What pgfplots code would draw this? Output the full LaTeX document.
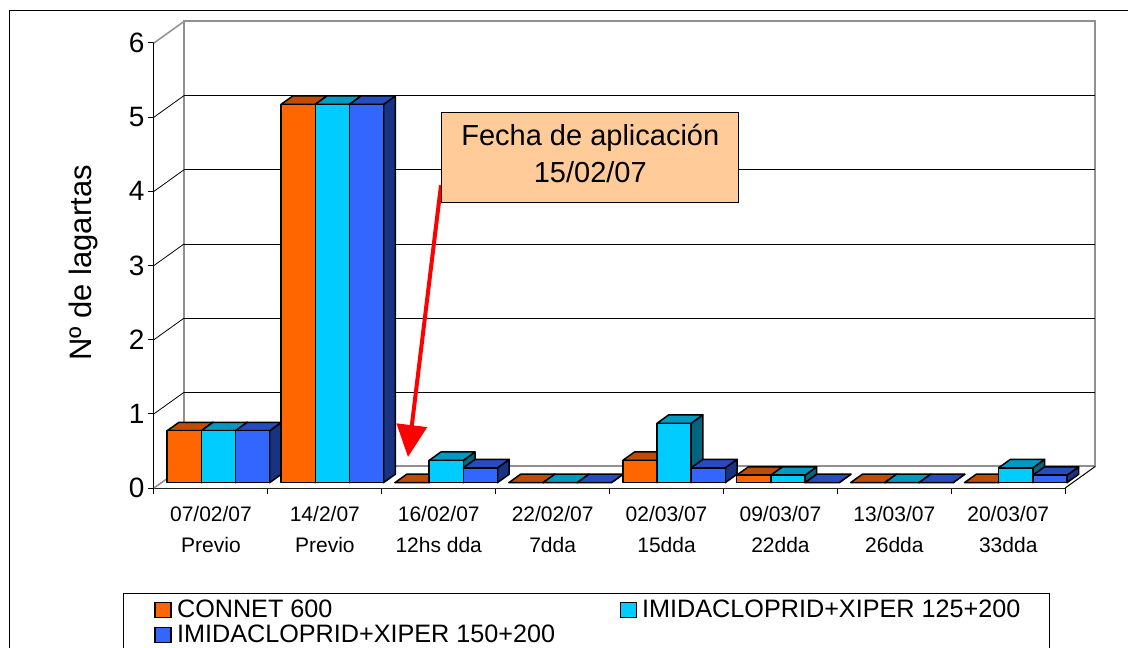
\documentclass[border=0pt]{standalone}
\usepackage{pgfplots}
\pgfplotsset{compat=1.18}
\usepackage{pgfplotstable}
\usepackage{fontspec}
\setmainfont{Liberation Sans}
\usetikzlibrary{arrows.meta}

\definecolor{cO}{HTML}{FF6600}
\definecolor{cOt}{HTML}{BF4C00}
\definecolor{cOs}{HTML}{803300}
\definecolor{cC}{HTML}{00CCFF}
\definecolor{cCt}{HTML}{0099BF}
\definecolor{cCs}{HTML}{006680}
\definecolor{cB}{HTML}{3366FF}
\definecolor{cBt}{HTML}{264CBF}
\definecolor{cBs}{HTML}{1A3380}
\definecolor{peach}{HTML}{FFCC99}
\definecolor{wallgray}{HTML}{909090}

\pgfplotstableread{
x a b c
0 0.7 0.7 0.7
1 5.1 5.1 5.1
2 0 0.3 0.2
3 0 0 0
4 0.3 0.8 0.2
5 0.1 0.1 0
6 0 0 0
7 0 0.2 0.1
}\datatable

\def\fa{0.25}
\def\fb{0.64}
\def\Dx{0.2634}
\def\Dy{0.2899}

\newcommand\drawbar[6]{%
  \pgfplotstablegetelem{#1}{#2}\of\datatable
  \let\barv\pgfplotsretval
  \pgfmathsetmacro\xa{#1+0.05+0.3*#3+\fa*\Dx}%
  \pgfmathsetmacro\xb{\xa+0.3}%
  \pgfmathsetmacro\xc{\xa+(\fb-\fa)*\Dx}%
  \pgfmathsetmacro\xd{\xb+(\fb-\fa)*\Dx}%
  \pgfmathsetmacro\ya{\fa*\Dy}%
  \pgfmathsetmacro\yb{\ya+\barv}%
  \pgfmathsetmacro\yc{\fb*\Dy}%
  \pgfmathsetmacro\yd{\yc+\barv}%
  \edef\tmp{%
    \noexpand\addplot[fill=#6,draw=black,line width=1.5pt,line join=round] coordinates {(\xb,\ya) (\xd,\yc) (\xd,\yd) (\xb,\yb)} -- cycle;
    \noexpand\addplot[fill=#5,draw=black,line width=1.5pt,line join=round] coordinates {(\xa,\yb) (\xb,\yb) (\xd,\yd) (\xc,\yd)} -- cycle;
    \noexpand\addplot[fill=#4,draw=black,line width=1.5pt,line join=round] coordinates {(\xa,\ya) (\xb,\ya) (\xb,\yb) (\xa,\yb)} -- cycle;
  }%
  \tmp
}

\begin{document}
\begin{tikzpicture}
\begin{axis}[
  x=113.9pt, y=74.17pt,
  xmin=0, xmax=8, ymin=0, ymax=6,
  clip=false,
  axis lines*=left,
  axis line style={black, line width=1pt},
  tick align=outside,
  major tick length=6pt,
  tick style={black, line width=1pt},
  xtick={0,...,8}, xticklabels={},
  extra x ticks={0.5,1.5,2.5,3.5,4.5,5.5,6.5,7.5},
  extra x tick labels={07/02/07\\Previo,14/2/07\\Previo,16/02/07\\12hs dda,22/02/07\\7dda,02/03/07\\15dda,09/03/07\\22dda,13/03/07\\26dda,20/03/07\\33dda},
  extra x tick style={major tick length=0pt, tick label style={font=\fontsize{21}{31}\selectfont, align=center, yshift=-15pt}},
  ytick={0,...,6},
  /pgf/number format/assume math mode=true,
  yticklabel style={font=\fontsize{28}{32}\selectfont},
  ylabel={Nº de lagartas},
  ylabel style={font=\fontsize{31}{36}\selectfont, at={(axis description cs:-0.0778,0.5056)}, anchor=center},
  legend columns=2,
  legend cell align=left,
  legend style={at={(axis description cs:-0.0345,-0.2350)}, anchor=north west, draw=black, line width=1pt,
    font=\fontsize{25.2}{28}\selectfont,
    nodes={inner sep=1pt, text height=18pt, text depth=5pt},
    inner xsep=6pt, inner ysep=5pt,
    /tikz/every even column/.append style={column sep=38pt}},
]
\addlegendimage{legend image code/.code={\path[draw=none,fill=none] (0pt,-1pt) rectangle (47pt,1pt); \draw[fill=cO,draw=black,line width=1.3pt] (26pt,-7pt) rectangle (42pt,8pt);}}
\addlegendentry{CONNET 600}
\addlegendimage{legend image code/.code={\path[draw=none,fill=none] (0pt,-1pt) rectangle (47pt,1pt); \draw[fill=cC,draw=black,line width=1.3pt] (26pt,-7pt) rectangle (42pt,8pt);}}
\addlegendentry{IMIDACLOPRID+XIPER 125+200\hspace{22pt}\mbox{}}
\addlegendimage{legend image code/.code={\path[draw=none,fill=none] (0pt,-1pt) rectangle (47pt,1pt); \draw[fill=cB,draw=black,line width=1.3pt] (26pt,-7pt) rectangle (42pt,8pt);}}
\addlegendentry{IMIDACLOPRID+XIPER 150+200}

% floor
\addplot[fill=white, draw=none] coordinates {(0,0) (8,0) (8.2634,0.2899) (0.2634,0.2899)} -- cycle;
% back wall
\addplot[fill=white, draw=wallgray, line width=2pt] coordinates {(0.2634,0.2899) (8.2634,0.2899) (8.2634,6.2899) (0.2634,6.2899)} -- cycle;
% gridlines on wall
\addplot[black, line width=0.8pt] coordinates {(0.2634,1.2899) (8.2634,1.2899)};
\addplot[black, line width=0.8pt] coordinates {(0.2634,2.2899) (8.2634,2.2899)};
\addplot[black, line width=0.8pt] coordinates {(0.2634,3.2899) (8.2634,3.2899)};
\addplot[black, line width=0.8pt] coordinates {(0.2634,4.2899) (8.2634,4.2899)};
\addplot[black, line width=0.8pt] coordinates {(0.2634,5.2899) (8.2634,5.2899)};
% side wall diagonals
\addplot[wallgray, line width=1.5pt] coordinates {(0,0) (0.2634,0.2899)};
\addplot[black, line width=0.8pt] coordinates {(0,1) (0.2634,1.2899)};
\addplot[black, line width=0.8pt] coordinates {(0,2) (0.2634,2.2899)};
\addplot[black, line width=0.8pt] coordinates {(0,3) (0.2634,3.2899)};
\addplot[black, line width=0.8pt] coordinates {(0,4) (0.2634,4.2899)};
\addplot[black, line width=0.8pt] coordinates {(0,5) (0.2634,5.2899)};
\addplot[wallgray, line width=1.5pt] coordinates {(0,6) (0.2634,6.2899)};
% floor right edge
\addplot[black, line width=1pt] coordinates {(8,0) (8.2634,0.2899)};

% bars
\pgfplotsforeachungrouped \i in {0,...,7}{%
  \drawbar{\i}{a}{0}{cO}{cOt}{cOs}%
  \drawbar{\i}{b}{1}{cC}{cCt}{cCs}%
  \drawbar{\i}{c}{2}{cB}{cBt}{cBs}%
}

% annotation
\draw[red, line width=4pt, -{Triangle[length=32pt,width=30pt]}] (axis cs:2.520,4.085) -- (axis cs:2.230,0.418);
\node[draw=black, fill=peach, line width=1.2pt, minimum width=297pt, minimum height=90pt, inner sep=0pt] at (axis cs:3.8306,4.4506) {};
\node[align=center, font=\fontsize{29}{37}\selectfont, inner sep=0pt] at (axis cs:3.8306,4.5106) {Fecha de aplicación\\15/02/07};

% outer frame and page box
\draw[black, line width=1pt] (axis cs:-1.2643,6.4312) rectangle (axis cs:8.70,-2.40);
\coordinate (TL) at (axis cs:-1.35206,6.57948);
\coordinate (BR) at (axis cs:8.55136,-2.15721);
\end{axis}
\pgfresetboundingbox
\path (TL) rectangle (BR);
\end{tikzpicture}
\end{document}
